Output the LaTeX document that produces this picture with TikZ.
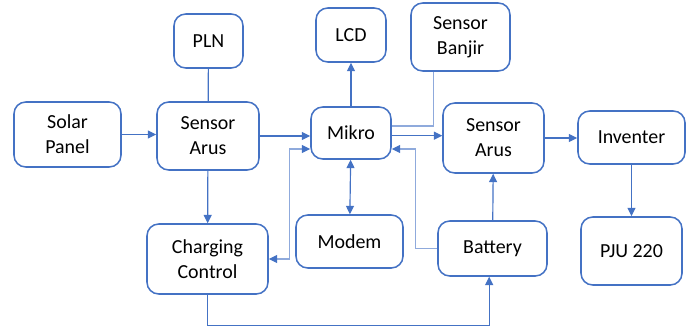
\documentclass[tikz,border=0pt]{standalone}
\usepackage{fontspec}
\setmainfont{Carlito}
\usetikzlibrary{arrows.meta}
\definecolor{boxblue}{HTML}{4472C4}
\definecolor{linkblue}{HTML}{8FAADC}
\begin{document}
\begin{tikzpicture}[
  x=0.03cm, y=-0.03cm,
  bnode/.style={draw=boxblue, line width=1.3pt, rounded corners=0.35cm, align=center,
    inner sep=0pt, font=\fontsize{17}{21.3}\selectfont},
  arw/.style={-{Triangle[length=0.25cm,width=0.24cm]}, draw=boxblue, line width=1pt},
  dblarw/.style={{Triangle[length=0.25cm,width=0.24cm,color=boxblue]}-{Triangle[length=0.25cm,width=0.24cm,color=boxblue]}, line width=1pt},
  symline/.style={-, draw=boxblue, line width=1pt},
  lnk/.style={draw=linkblue, line width=1pt}
  ]
\useasboundingbox (0,0) rectangle (693,329);

% boxes
\node [bnode, minimum width=3.21cm, minimum height=1.95cm] (solar) at (67.5,134.5) {Solar\\Panel};
\node [bnode, minimum width=2.07cm, minimum height=1.62cm] (pln) at (208.5,41) {PLN};
\node [bnode, minimum width=3.06cm, minimum height=2.04cm] (sa1) at (208,136) {Sensor\\Arus};
\node [bnode, minimum width=2.1cm, minimum height=1.62cm] (lcd) at (351,35) {LCD};
\node [bnode, minimum width=2.4cm, minimum height=1.56cm] (mikro) at (351,133) {Mikro};
\node [bnode, minimum width=2.97cm, minimum height=2.04cm] (banjir) at (460.5,37) {Sensor\\Banjir};
\node [bnode, minimum width=3.03cm, minimum height=2.1cm] (sa2) at (493.5,138) {Sensor\\Arus};
\node [bnode, minimum width=3.21cm, minimum height=1.59cm] (inv) at (631.5,137.5) {Inventer};
\node [bnode, minimum width=3.03cm, minimum height=2.04cm] (pju) at (631.5,251) {PJU 220};
\node [bnode, minimum width=3.63cm, minimum height=2.1cm] (cc) at (207.5,259) {Charging\\Control};
\node [bnode, minimum width=3.21cm, minimum height=1.59cm] (modem) at (349.5,241.5) {Modem};
\node [bnode, minimum width=3.27cm, minimum height=1.65cm] (bat) at (492.5,248.5) {Battery};

% power side
\draw [arw] (solar.east) -- (solar.east -| sa1.west);
\draw [symline] (pln) -- (sa1);
\draw [arw] (sa1) -- (cc);
\draw [arw] (cc.south) -- ++(0cm,-0.93cm) -| ([xshift=-0.1cm]bat.south);

% mikro
\draw [arw] (sa1.east) -- (sa1.east -| mikro.west);
\draw [arw] (mikro) -- (lcd);
\draw [dblarw, draw=boxblue] (mikro) -- (modem);
\draw [arw] ([yshift=-0.08cm]mikro.east) -- ([yshift=-0.08cm]mikro.east -| sa2.west);
\draw [lnk] ([xshift=-0.8cm]banjir.south) |- ([yshift=0.21cm]mikro.east);
\draw [lnk, -{Triangle[length=0.25cm,width=0.24cm,color=boxblue]}] (bat.west) -- ++(-0.66cm,0cm) |- ([yshift=-0.48cm]mikro.east);
\draw [lnk, dblarw] ([yshift=-0.48cm]mikro.west) -- ++(-0.63cm,0cm) |- (cc.east);

% output side
\draw [arw] (bat) -- (sa2);
\draw [arw] (sa2.east) -- (sa2.east -| inv.west);
\draw [arw] (inv) -- (pju);

\end{tikzpicture}
\end{document}
